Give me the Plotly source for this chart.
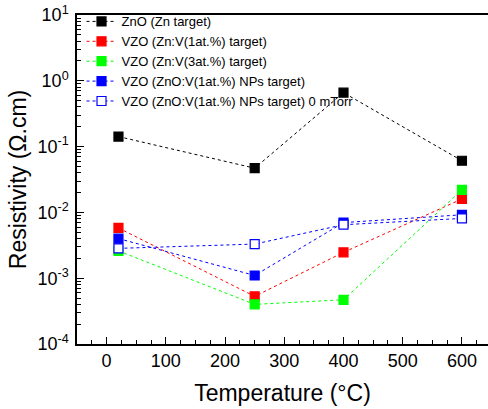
import plotly.graph_objects as go

temps = [20, 250, 400, 600]
zno = [0.142, 0.047, 0.66, 0.061]
vzo1 = [0.0058, 0.00053, 0.00247, 0.016]
vzo3 = [0.0026, 0.00040, 0.00047, 0.022]
vzo_np = [0.0040, 0.0011, 0.0070, 0.0092]
vzo_np0 = [0.00284, 0.0033, 0.0065, 0.0081]

names = ["ZnO (Zn target)", "VZO (Zn:V(1at.%) target)", "VZO (Zn:V(3at.%) target)",
         "VZO (ZnO:V(1at.%) NPs target)", "VZO (ZnO:V(1at.%) NPs target) 0 mTorr"]
series = [zno, vzo1, vzo3, vzo_np, vzo_np0]
colors = ["#000000", "#FF0000", "#00FF00", "#0000FF", "#0000FF"]
fills = ["#000000", "#FF0000", "#00FF00", "#0000FF", "#FFFFFF"]

y_tickvals = [1e-4, 1e-3, 1e-2, 1e-1, 1e0, 1e1]
y_ticktext = ["10<sup>-4</sup>", "10<sup>-3</sup>", "10<sup>-2</sup>",
              "10<sup>-1</sup>", "10<sup>0</sup>", "10<sup>1</sup>"]

fig = go.Figure()
for n, s, c, f in zip(names, series, colors, fills):
    fig.add_trace(go.Scatter(
        x=temps, y=s, name=n, mode="lines+markers",
        line=dict(color=c, width=1, dash="dot"),
        marker=dict(symbol="square", size=9, color=f, line=dict(color=c, width=1.2)),
    ))

fig.update_layout(
    width=488, height=409,
    margin=dict(l=77, r=0, t=15, b=65),
    paper_bgcolor="white", plot_bgcolor="white",
    font=dict(family="Liberation Sans, Arial", color="black"),
    showlegend=True,
    legend=dict(x=0.011, y=1.026, xanchor="left", yanchor="top",
                font=dict(size=13), bgcolor="rgba(0,0,0,0)",
                tracegroupgap=0, itemwidth=30),
)
fig.update_xaxes(
    range=[-50, 644], dtick=100, tick0=0, automargin=False,
    showgrid=False, zeroline=False,
    showline=True, linecolor="black", linewidth=1.5, mirror=True,
    ticks="inside", ticklen=7, tickwidth=1.2, tickcolor="black",
    minor=dict(dtick=25, ticks="inside", ticklen=4, tickwidth=1, tickcolor="black"),
    tickfont=dict(size=18),
    title=dict(text="Temperature (°C)", font=dict(size=23), standoff=15),
)
fig.update_yaxes(
    type="log", range=[-4, 1], automargin=False,
    tickvals=y_tickvals, ticktext=y_ticktext,
    showgrid=False, zeroline=False,
    showline=True, linecolor="black", linewidth=1.5,
    ticks="inside", ticklen=7, tickwidth=1.2, tickcolor="black",
    minor=dict(dtick="D1", ticks="inside", ticklen=4, tickwidth=1, tickcolor="black"),
    tickfont=dict(size=18), ticklabelstandoff=3,
    title=dict(text="Resistivity (Ω.cm)", font=dict(size=23), standoff=4),
)
fig.write_html("out.html", config={"displayModeBar": False},
               post_script="document.body.style.margin='0';")
